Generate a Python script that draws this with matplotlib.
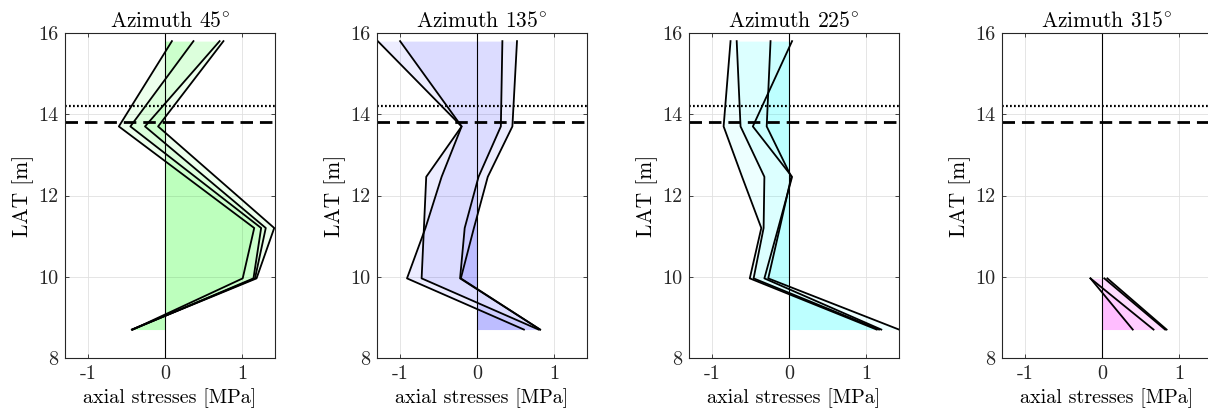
import numpy as np
import matplotlib.pyplot as plt

plt.rcParams['font.family'] = 'serif'
plt.rcParams['font.serif'] = ['cmr10']
plt.rcParams['mathtext.fontset'] = 'cm'
plt.rcParams['axes.unicode_minus'] = False

# LAT levels [m] where the stresses were evaluated
y_45 = [15.8, 13.7, 11.2, 9.96, 8.7]
y_mid = [15.8, 13.7, 12.46, 11.2, 9.96, 8.7]
y_315 = [9.96, 8.7]

# axial stresses [MPa], four curves per azimuth
az45_a = [0.09, -0.60, 1.16, 1.01, -0.42]
az45_b = [0.37, -0.45, 1.25, 1.15, -0.42]
az45_c = [0.71, -0.26, 1.31, 1.17, -0.43]
az45_d = [0.76, -0.09, 1.42, 1.19, -0.43]

az135_a = [-1.29, -0.20, -0.66, -0.69, -0.72, 0.80]
az135_b = [-1.00, -0.20, -0.46, -0.67, -0.91, 0.61]
az135_c = [0.33, 0.31, 0.02, -0.16, -0.22, 0.82]
az135_d = [0.52, 0.46, 0.14, -0.04, -0.21, 0.82]

az225_a = [-0.76, -0.85, -0.61, -0.36, -0.51, 1.14]
az225_b = [-0.68, -0.63, -0.32, -0.33, -0.46, 1.17]
az225_c = [0.04, -0.47, 0.04, -0.14, -0.32, 1.20]
az225_d = [-0.24, -0.29, 0.03, -0.12, -0.27, 1.43]

az315_a = [-0.15, 0.40]
az315_b = [-0.15, 0.67]
az315_c = [0.03, 0.82]
az315_d = [0.07, 0.84]

titles = ['Azimuth 45$^{\\circ}$', 'Azimuth 135$^{\\circ}$',
          'Azimuth 225$^{\\circ}$', 'Azimuth 315$^{\\circ}$']
colors = [(0, 1, 0), (0, 0, 1), (0, 1, 1), (1, 0, 1)]
panels = [
    (y_45, [az45_a, az45_b, az45_c, az45_d]),
    (y_mid, [az135_a, az135_b, az135_c, az135_d]),
    (y_mid, [az225_a, az225_b, az225_c, az225_d]),
    (y_315, [az315_a, az315_b, az315_c, az315_d]),
]

W, H = 1208, 416
fig = plt.figure(figsize=(W / 100, H / 100), dpi=100)
lefts = [65, 377, 689, 1002]

for i, (y, curves) in enumerate(panels):
    ax = fig.add_axes([lefts[i] / W, 58 / H, 210 / W, 325 / H])
    ax.set_axisbelow(True)
    ax.grid(True, color='0.88', lw=0.6)

    # each curve shaded from zero, overlaps get darker
    for x in curves:
        ax.fill_betweenx(y, 0, x, color=colors[i], alpha=0.07, lw=0)
    for x in curves:
        ax.plot(x, y, color='k', lw=1.3)

    ax.axvline(0, color='k', lw=0.8)
    ax.axhline(14.2, color='k', lw=1.6, linestyle=(0, (0.8, 1.0)))
    ax.axhline(13.8, color='k', lw=2.0, linestyle=(0, (4.5, 2.5)))

    ax.set_xlim(-1.3, 1.43)
    ax.set_ylim(8, 16)
    ax.set_xticks([-1, 0, 1])
    ax.set_xticklabels(['-1', '0', '1'])
    ax.set_yticks([8, 10, 12, 14, 16])
    ax.set_yticklabels(['8', '10', '12', '14', '16'])
    ax.tick_params(direction='in', top=True, right=True, length=3,
                   width=0.6, labelsize=14.5, colors='0.15', pad=5)
    for s in ax.spines.values():
        s.set_color('0.15')
        s.set_linewidth(0.8)

    ax.set_title(titles[i], fontsize=15.5, pad=4)
    ax.set_xlabel('axial stresses [MPa]', fontsize=14.5, labelpad=4)
    ax.set_ylabel('LAT [m]', fontsize=15.5, labelpad=3)

fig.savefig('out.png', dpi=100)
